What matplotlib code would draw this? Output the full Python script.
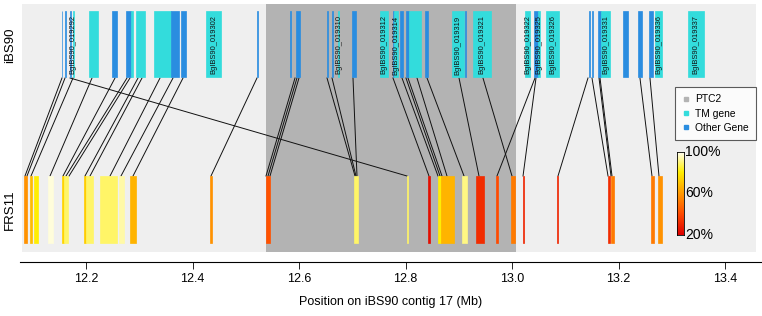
import matplotlib
matplotlib.use("Agg")
import matplotlib.pyplot as plt
from matplotlib.colors import LinearSegmentedColormap, Normalize
from matplotlib.lines import Line2D
import numpy as np

plt.rcParams['font.family'] = ['Liberation Sans', 'DejaVu Sans']

# ---- data (positions in Mb on iBS90 contig 17) ----
ptc2_start, ptc2_end = 12.538, 13.0075

# iBS90 genes: start, end, type, label
top_start = [12.1540, 12.1598, 12.1693, 12.1748, 12.2056, 12.2488, 12.2751, 12.2845, 12.2939, 12.3277,
             12.3596, 12.3784, 12.4253, 12.5203, 12.5823, 12.5944, 12.6518, 12.6612, 12.6732, 12.6995,
             12.7521, 12.7757, 12.7784, 12.7897, 12.8009, 12.8066, 12.8366, 12.8873, 12.9109, 12.9267,
             13.0244, 13.0413, 13.0488, 13.0638, 13.1438, 13.1494, 13.1615, 13.1671, 13.2084, 13.2366,
             13.2573, 13.2686, 13.3305]
top_end = [12.1558, 12.1616, 12.1711, 12.1766, 12.2225, 12.2582, 12.2845, 12.2883, 12.3108, 12.3596,
           12.3746, 12.3878, 12.4535, 12.5221, 12.5841, 12.6019, 12.6536, 12.6630, 12.6751, 12.7070,
           12.7671, 12.7775, 12.7859, 12.7953, 12.8066, 12.8291, 12.8422, 12.9099, 12.9127, 12.9605,
           13.0338, 13.0488, 13.0526, 13.0883, 13.1456, 13.1512, 13.1671, 13.1840, 13.2178, 13.2441,
           13.2648, 13.2817, 13.3606]
top_type = ['other', 'other', 'other', 'tm', 'tm', 'other', 'other', 'tm', 'tm', 'tm',
            'other', 'other', 'tm', 'other', 'other', 'other', 'other', 'other', 'tm', 'other',
            'tm', 'other', 'tm', 'other', 'other', 'tm', 'other', 'tm', 'other', 'tm',
            'tm', 'other', 'tm', 'tm', 'other', 'other', 'other', 'tm', 'other', 'other',
            'other', 'tm', 'tm']
top_label = ['', '', '', 'BgIBS90_019292', '', '', '', '', '', '',
             '', '', 'BgIBS90_019302', '', '', '', '', '', 'BgIBS90_019310', '',
             'BgIBS90_019312', '', 'BgIBS90_019314', '', '', '', '', 'BgIBS90_019319', '', 'BgIBS90_019321',
             'BgIBS90_019322', '', 'BgIBS90_019325', 'BgIBS90_019326', '', '', '', 'BgIBS90_019331', '', '',
             '', 'BgIBS90_019336', 'BgIBS90_019337']

# FRS11 matches: start, end, identity (%)
bot_start = [12.0836, 12.0948, 12.1023, 12.1286, 12.1549, 12.1587, 12.1962, 12.2000, 12.2263, 12.2620,
             12.2826, 12.4329, 12.5380, 12.7033, 12.8028, 12.8422, 12.8610, 12.8667, 12.9061, 12.9324,
             12.9700, 12.9981, 13.0207, 13.0845, 13.1802, 13.1859, 13.2610, 13.2742]
bot_end = [12.0892, 12.0986, 12.1099, 12.1380, 12.1587, 12.1662, 12.2000, 12.2131, 12.2582, 12.2714,
           12.2939, 12.4366, 12.5455, 12.7108, 12.8047, 12.8460, 12.8667, 12.8911, 12.9155, 12.9474,
           12.9737, 13.0056, 13.0225, 13.0864, 13.1840, 13.1915, 13.2667, 13.2817]
bot_ident = [58, 68, 80, 97, 74, 88, 72, 88, 88, 93,
             66, 58, 42, 88, 88, 24, 80, 66, 90, 32,
             40, 52, 30, 30, 32, 52, 52, 58]

# links between iBS90 (top) and FRS11 (bottom) positions
link_top = [12.1549, 12.1606, 12.1700, 12.1756, 12.2113, 12.2545, 12.2770, 12.2826, 12.2977, 12.3052,
            12.3390, 12.3634, 12.3822, 12.5211, 12.5925, 12.5962, 12.6000, 12.6526, 12.6620, 12.7014,
            12.7765, 12.7934, 12.8009, 12.8047, 12.8216, 12.8404, 12.9005, 12.9455, 13.0432, 13.0451,
            13.1427, 13.1502, 13.1634, 13.1653, 13.2403, 13.2591]
link_bot = [12.0854, 12.0892, 12.8028, 12.0967, 12.1324, 12.1568, 12.1624, 12.1681, 12.1981, 12.2075,
            12.2451, 12.2657, 12.2883, 12.4347, 12.5380, 12.5418, 12.5455, 12.7052, 12.7070, 12.7089,
            12.8441, 12.8610, 12.8648, 12.8685, 12.8779, 12.9099, 12.9380, 13.0000, 12.9718, 13.0207,
            13.0864, 13.1803, 13.1859, 13.1878, 13.2629, 13.2760]

x_ticks = [12.2, 12.4, 12.6, 12.8, 13.0, 13.2, 13.4]
legend_labels = ['PTC2', 'TM gene', 'Other Gene']
cbar_labels = ['100%', '60%', '20%']

# ---- styling ----
C_PTC2 = '#b3b3b3'
C_TM = '#33dcdc'
C_OTHER = '#2a8de0'
C_PANEL = '#efefef'
type_color = {'tm': C_TM, 'other': C_OTHER}
cmap = LinearSegmentedColormap.from_list(
    'ident', [(0.0, '#dd0000'), (0.25, '#ff4a00'), (0.5, '#ff9a00'), (0.75, '#ffee00'), (1.0, '#ffffff')])
norm = Normalize(20, 100)

W, H = 762, 316
fig = plt.figure(figsize=(W / 100, H / 100), dpi=100)
px_per_mb = 532.5
x_left = 12.2 + (20 - 86) / px_per_mb
x_right = 12.2 + (762 - 86) / px_per_mb
ax = fig.add_axes([20 / W, 1 - 262 / H, 742 / W, 262 / H])
ax.set_xlim(x_left, x_right)
ax.set_ylim(262, 0)

# panels
p_l = 12.2 + (22 - 86) / px_per_mb
p_r = 12.2 + (756 - 86) / px_per_mb
ax.bar(p_l, 248, width=p_r - p_l, bottom=4, align='edge', color=C_PANEL, lw=0, zorder=0)
ax.bar(ptc2_start, 248, width=ptc2_end - ptc2_start, bottom=4, align='edge', color=C_PTC2, lw=0, zorder=1)

# top genes
for s, e, t in zip(top_start, top_end, top_type):
    c = type_color[t]
    ax.bar(s, 66, width=e - s, bottom=11, align='edge', color=c, edgecolor=c, lw=0.5, zorder=3)
for s, e, lab in zip(top_start, top_end, top_label):
    if lab:
        ax.text((s + e) / 2, 45, lab, rotation=90, fontsize=5.4, ha='center', va='center',
                color='#111111', zorder=5)

# links
for a, b in zip(link_top, link_bot):
    ax.plot([a, b], [78, 176], color='#111111', lw=0.7, zorder=2)

# bottom matches
for s, e, v in zip(bot_start, bot_end, bot_ident):
    c = cmap(norm(v))
    ax.bar(s, 67, width=e - s, bottom=176, align='edge', color=c, edgecolor=c, lw=0.5, zorder=3)

# axes styling
for sp in ['left', 'right', 'top']:
    ax.spines[sp].set_visible(False)
ax.spines['bottom'].set_linewidth(0.8)
ax.set_yticks([])
ax.set_xticks(x_ticks)
ax.set_xticklabels([f'{t:.1f}' for t in x_ticks], fontsize=9)
ax.tick_params(axis='x', length=5, width=0.6, pad=3)
ax.set_xlabel('Position on iBS90 contig 17 (Mb)', fontsize=9, labelpad=8)

fig.text(10 / W, 1 - 45 / H, 'iBS90', rotation=90, ha='center', va='center', fontsize=9.5)
fig.text(10 / W, 1 - 210 / H, 'FRS11', rotation=90, ha='center', va='center', fontsize=9.5)

# legend
handles = [Line2D([], [], marker='s', ls='', color=c, markersize=3.5) for c in (C_PTC2, C_TM, C_OTHER)]
leg = fig.legend(handles, legend_labels, loc='upper right', bbox_to_anchor=(756 / W, 1 - 87 / H),
                 fontsize=7.4, frameon=True, fancybox=False, borderpad=0.7, handletextpad=0.5,
                 labelspacing=0.42, handlelength=0.8, borderaxespad=0)
leg.get_frame().set_edgecolor('#333333')
leg.get_frame().set_linewidth(0.8)

# colorbar
cax = fig.add_axes([677 / W, 1 - 235 / H, 7 / W, 83 / H])
grad = np.linspace(0, 1, 256).reshape(-1, 1)
cax.imshow(grad, aspect='auto', cmap=cmap, origin='lower', extent=[0, 1, 0, 1])
cax.set_xticks([])
cax.set_yticks([])
for sp in cax.spines.values():
    sp.set_linewidth(0.6)
for lab, yy in zip(cbar_labels, [1.0, 0.5, 0.0]):
    cax.text(1.15, yy, lab, transform=cax.transAxes, fontsize=10, ha='left', va='center')

fig.savefig('out.png', dpi=100)
